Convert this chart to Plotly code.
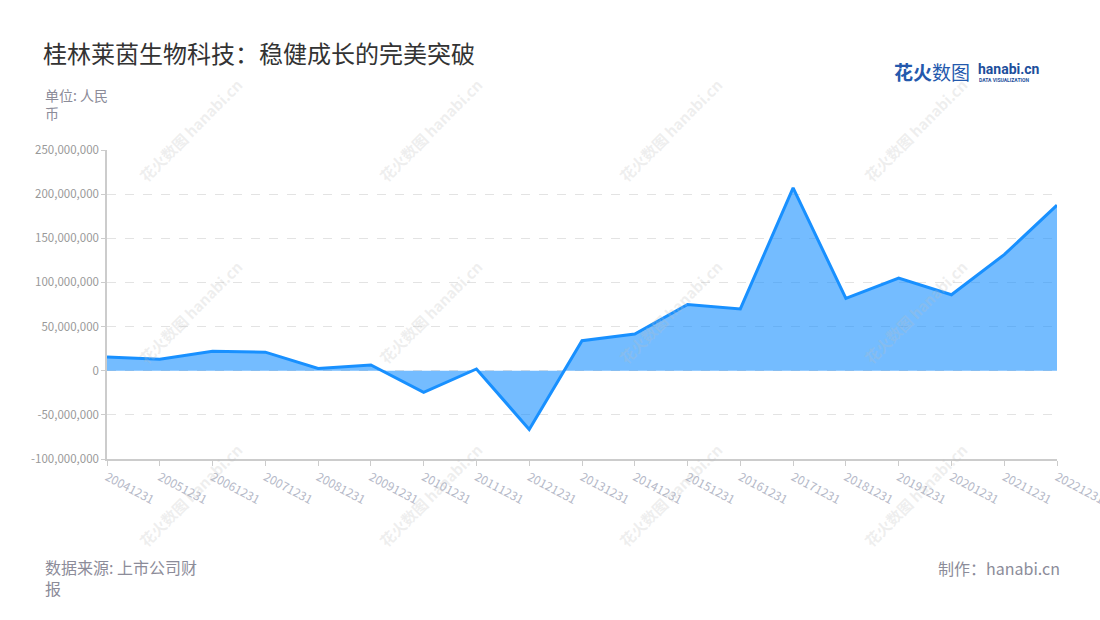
import plotly.graph_objects as go

# ---- data ----
categories = ["20041231", "20051231", "20061231", "20071231", "20081231", "20091231",
              "20101231", "20111231", "20121231", "20131231", "20141231", "20151231",
              "20161231", "20171231", "20181231", "20191231", "20201231", "20211231",
              "20221231"]
net_profit = [15500000, 13000000, 22000000, 21000000, 2500000, 6500000,
              -24500000, 2000000, -66500000, 34000000, 41500000, 75000000,
              70000000, 207000000, 82000000, 105000000, 86000000, 131500000,
              187500000]
y_ticks = [-100000000, -50000000, 0, 50000000, 100000000, 150000000, 200000000, 250000000]
y_ticktext = [f"{v:,}" for v in y_ticks]

title_text = "桂林莱茵生物科技：稳健成长的完美突破"
unit_text = "单位: 人民<br>币"
source_text = "数据来源: 上市公司财<br>报"
credit_text = "制作：hanabi.cn"

W, H = 1100, 620
L, R, T, B = 107, 1057, 150, 459
FONT = "Noto Sans CJK SC"


def px(x):
    return (x - L) / (R - L)


def py(y):
    return (B - y) / (B - T)


fig = go.Figure()
fig.add_trace(go.Scatter(
    x=categories, y=net_profit, mode="lines",
    line=dict(color="#1890ff", width=3),
    fill="tozeroy", fillcolor="rgba(24,144,255,0.6)",
    hoverinfo="x+y",
))

annotations = []
# watermarks
for wx in [190, 430, 670, 915]:
    for wy in [130, 312, 495]:
        annotations.append(dict(
            xref="paper", yref="paper", x=px(wx), y=py(wy),
            text="<b>花火数图</b> <b>hanabi.cn</b>", showarrow=False, textangle=-45,
            font=dict(family=FONT, size=15, color="rgba(190,190,190,0.25)"),
            xanchor="center", yanchor="middle",
        ))

annotations += [
    dict(xref="paper", yref="paper", x=px(43), y=py(83), text=unit_text,
         showarrow=False, xanchor="left", yanchor="top", align="left",
         font=dict(family=FONT, size=14, color="#8c8c99")),
    dict(xref="paper", yref="paper", x=px(43), y=py(553), text=source_text,
         showarrow=False, xanchor="left", yanchor="top", align="left",
         font=dict(family=FONT, size=16, color="#8c8c99")),
    dict(xref="paper", yref="paper", x=px(1062), y=py(554), text=credit_text,
         showarrow=False, xanchor="right", yanchor="top", align="right",
         font=dict(family=FONT, size=16, color="#8c8c99")),
    # logo
    dict(xref="paper", yref="paper", x=px(892), y=py(72), text="<b>花火</b>数图",
         showarrow=False, xanchor="left", yanchor="middle",
         font=dict(family=FONT, size=19, color="#2459ad")),
    dict(xref="paper", yref="paper", x=px(976), y=py(69), text="<b>hanabi.cn</b>",
         showarrow=False, xanchor="left", yanchor="middle",
         font=dict(family="Roboto", size=14, color="#1d4f9c")),
    dict(xref="paper", yref="paper", x=px(977), y=py(80), text="<b>DATA VISUALIZATION</b>",
         showarrow=False, xanchor="left", yanchor="middle",
         font=dict(family="Roboto", size=5, color="#1d4f9c")),
]

fig.update_layout(
    width=W, height=H,
    margin=dict(l=L, r=W - R, t=T, b=H - B, pad=0, autoexpand=False),
    paper_bgcolor="white", plot_bgcolor="white",
    showlegend=False,
    title=dict(text=title_text, x=43 / W, y=1 - 55 / H, xanchor="left", yanchor="middle",
               xref="container", yref="container", automargin=False,
               font=dict(family=FONT, size=24, color="#333333")),
    font=dict(family=FONT),
    annotations=annotations,
)

fig.update_xaxes(
    type="category", range=[0, len(categories) - 1], automargin=False,
    showgrid=False, showline=True, linecolor="#cccccc", linewidth=1.5,
    ticks="outside", ticklen=5, tickcolor="#cccccc", tickwidth=1,
    tickangle=28, tickfont=dict(family=FONT, size=12, color="#b5b9c8"),
    zeroline=False,
)
fig.update_yaxes(
    range=[-100000000, 250000000], automargin=False,
    tickvals=y_ticks, ticktext=y_ticktext,
    showgrid=True, gridcolor="#e3e3e3", griddash="dash", gridwidth=1,
    showline=True, linecolor="#cccccc", linewidth=1.5,
    ticks="outside", ticklen=4, tickcolor="#cccccc",
    tickfont=dict(family=FONT, size=11.5, color="#999999"),
    zeroline=False, layer="above traces",
)

fig.write_html(
    "out.html",
    config={"responsive": False, "displayModeBar": False},
    post_script="document.body.style.margin='0';document.body.style.overflow='hidden';",
)
